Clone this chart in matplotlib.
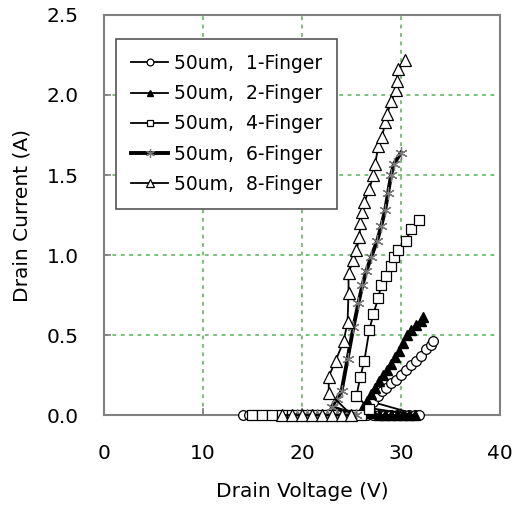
import matplotlib
matplotlib.use('Agg')
import matplotlib.pyplot as plt

plt.rcParams['font.family'] = ['DejaVu Sans']

# 1-Finger (open circles): off-state branch, then snapback / on-state branch
v1 = [14.0, 14.6, 15.2, 15.8, 16.4, 17.0, 17.6, 18.2, 18.8, 19.4, 20.6, 21.2, 21.8, 22.4,
      23.0, 23.6, 24.2, 24.8, 25.4, 26.0, 26.6, 27.2, 27.8, 28.4, 29.0, 29.6, 30.2, 30.8,
      31.4, 31.8,
      27.2, 27.7, 28.1, 28.5, 29.0, 29.5, 30.0, 30.5, 31.0, 31.5, 32.0, 32.5, 33.0, 33.2]
i1 = [0.0] * 30 + \
     [0.08, 0.12, 0.15, 0.17, 0.20, 0.22, 0.25, 0.28, 0.31, 0.34, 0.37, 0.41, 0.44, 0.46]

# 2-Finger (filled triangles)
v2 = [26.0, 26.6, 27.2, 27.8, 28.4, 29.0, 29.6, 30.2, 30.8, 31.4,
      26.2, 26.6, 27.0, 27.4, 27.8, 28.2, 28.6, 29.0, 29.4, 29.8, 30.2, 30.6,
      31.0, 31.5, 32.0, 32.2]
i2 = [0.02, 0.01, 0.01, 0.0, 0.0, 0.0, 0.0, 0.0, 0.0, 0.0,
      0.05, 0.09, 0.13, 0.17, 0.21, 0.25, 0.28, 0.32, 0.36, 0.40, 0.45, 0.50,
      0.53, 0.56, 0.59, 0.61]

# 4-Finger (open squares)
v4 = [15.0, 16.0, 17.0, 18.0, 19.0, 20.0, 21.0, 22.0, 23.0, 24.0, 25.0, 26.0, 26.8,
      25.5, 25.9, 26.3, 26.8, 27.2, 27.7, 28.0, 28.5, 29.0, 29.3, 29.7, 30.5, 31.0, 31.8]
i4 = [0.0] * 12 + [0.04,
      0.12, 0.24, 0.34, 0.53, 0.63, 0.73, 0.81, 0.87, 0.93, 0.99, 1.03, 1.09, 1.16, 1.22]

# 6-Finger (asterisks, heavy line)
v6 = [19.5, 20.0, 20.5, 21.0, 21.5, 22.0, 22.5, 23.0, 23.5, 24.0, 24.5, 25.0, 25.5,
      23.0, 23.5, 24.0, 24.6, 25.2, 25.7, 26.1, 26.5, 27.0, 27.6, 28.0, 28.4, 28.7,
      29.0, 29.3, 30.0]
i6 = [0.0] * 13 + \
     [0.05, 0.10, 0.15, 0.35, 0.55, 0.70, 0.81, 0.90, 0.99, 1.09, 1.18, 1.28, 1.39,
      1.50, 1.57, 1.64]

# 8-Finger (open triangles)
v8 = [18.0, 19.0, 20.0, 21.0, 22.0, 23.0, 24.0, 25.0,
      22.7, 22.7, 23.4, 24.2, 24.6, 24.7, 24.7, 25.2, 25.5, 25.8, 25.9, 26.1, 26.3,
      26.8, 27.2, 27.4, 27.7, 28.1, 28.4, 28.6, 29.0, 29.5, 29.6, 29.7, 30.4]
i8 = [0.0] * 8 + \
     [0.14, 0.24, 0.34, 0.46, 0.58, 0.76, 0.89, 0.97, 1.03, 1.11, 1.20, 1.27, 1.33,
      1.41, 1.50, 1.57, 1.68, 1.74, 1.83, 1.88, 1.96, 2.03, 2.09, 2.16, 2.22]

labels = ['50um,  1-Finger', '50um,  2-Finger', '50um,  4-Finger',
          '50um,  6-Finger', '50um,  8-Finger']

fig = plt.figure(figsize=(5.2, 5.08), dpi=100)
ax = fig.add_axes([0.2, 0.183, 0.7615, 0.7875])

ax.plot(v1, i1, '-', color='black', lw=1.3, marker='o', ms=7, mfc='white', mec='black',
        mew=0.9, clip_on=False, label=labels[0], zorder=3)
ax.plot(v2, i2, '-', color='black', lw=1.3, marker='^', ms=7, mfc='black', mec='black',
        clip_on=False, label=labels[1], zorder=3)
ax.plot(v4, i4, '-', color='black', lw=1.3, marker='s', ms=7, mfc='white', mec='black',
        mew=0.9, clip_on=False, label=labels[2], zorder=3)
ax.plot(v6, i6, '-', color='black', lw=2.8, marker=(6, 2, 0), ms=9, mec='#777777',
        mew=0.9, clip_on=False, label=labels[3], zorder=3)
ax.plot(v8, i8, '-', color='black', lw=1.3, marker='^', ms=8, mfc='white', mec='black',
        mew=0.9, clip_on=False, label=labels[4], zorder=4)

ax.set_xlim(0, 40)
ax.set_ylim(0, 2.5)
ax.set_xticks([0, 10, 20, 30, 40])
ax.set_yticks([0.0, 0.5, 1.0, 1.5, 2.0, 2.5])
ax.set_yticklabels(['0.0', '0.5', '1.0', '1.5', '2.0', '2.5'])
ax.tick_params(direction='in', length=5, width=1.2, color='#808080', labelsize=14.5, pad=18)
ax.tick_params(axis='x', pad=20.5)
ax.grid(True, color='#55b055', linestyle=(0, (2.5, 3)), linewidth=1.1)
ax.set_axisbelow(True)
for s in ax.spines.values():
    s.set_color('#808080')
    s.set_linewidth(1.5)

ax.set_xlabel('Drain Voltage (V)', fontsize=14.5, labelpad=14)
ax.set_ylabel('Drain Current (A)', fontsize=14.5, labelpad=11)

leg = ax.legend(loc='upper left', bbox_to_anchor=(0.03, 0.94), fontsize=13.5, frameon=True,
                fancybox=False, edgecolor='#555555', handlelength=2.0, markerscale=0.7,
                labelspacing=0.6, borderpad=0.8, borderaxespad=0, handletextpad=0.3)
leg.get_frame().set_linewidth(1.2)
leg.get_frame().set_alpha(1)

fig.savefig('out.png', dpi=100)
